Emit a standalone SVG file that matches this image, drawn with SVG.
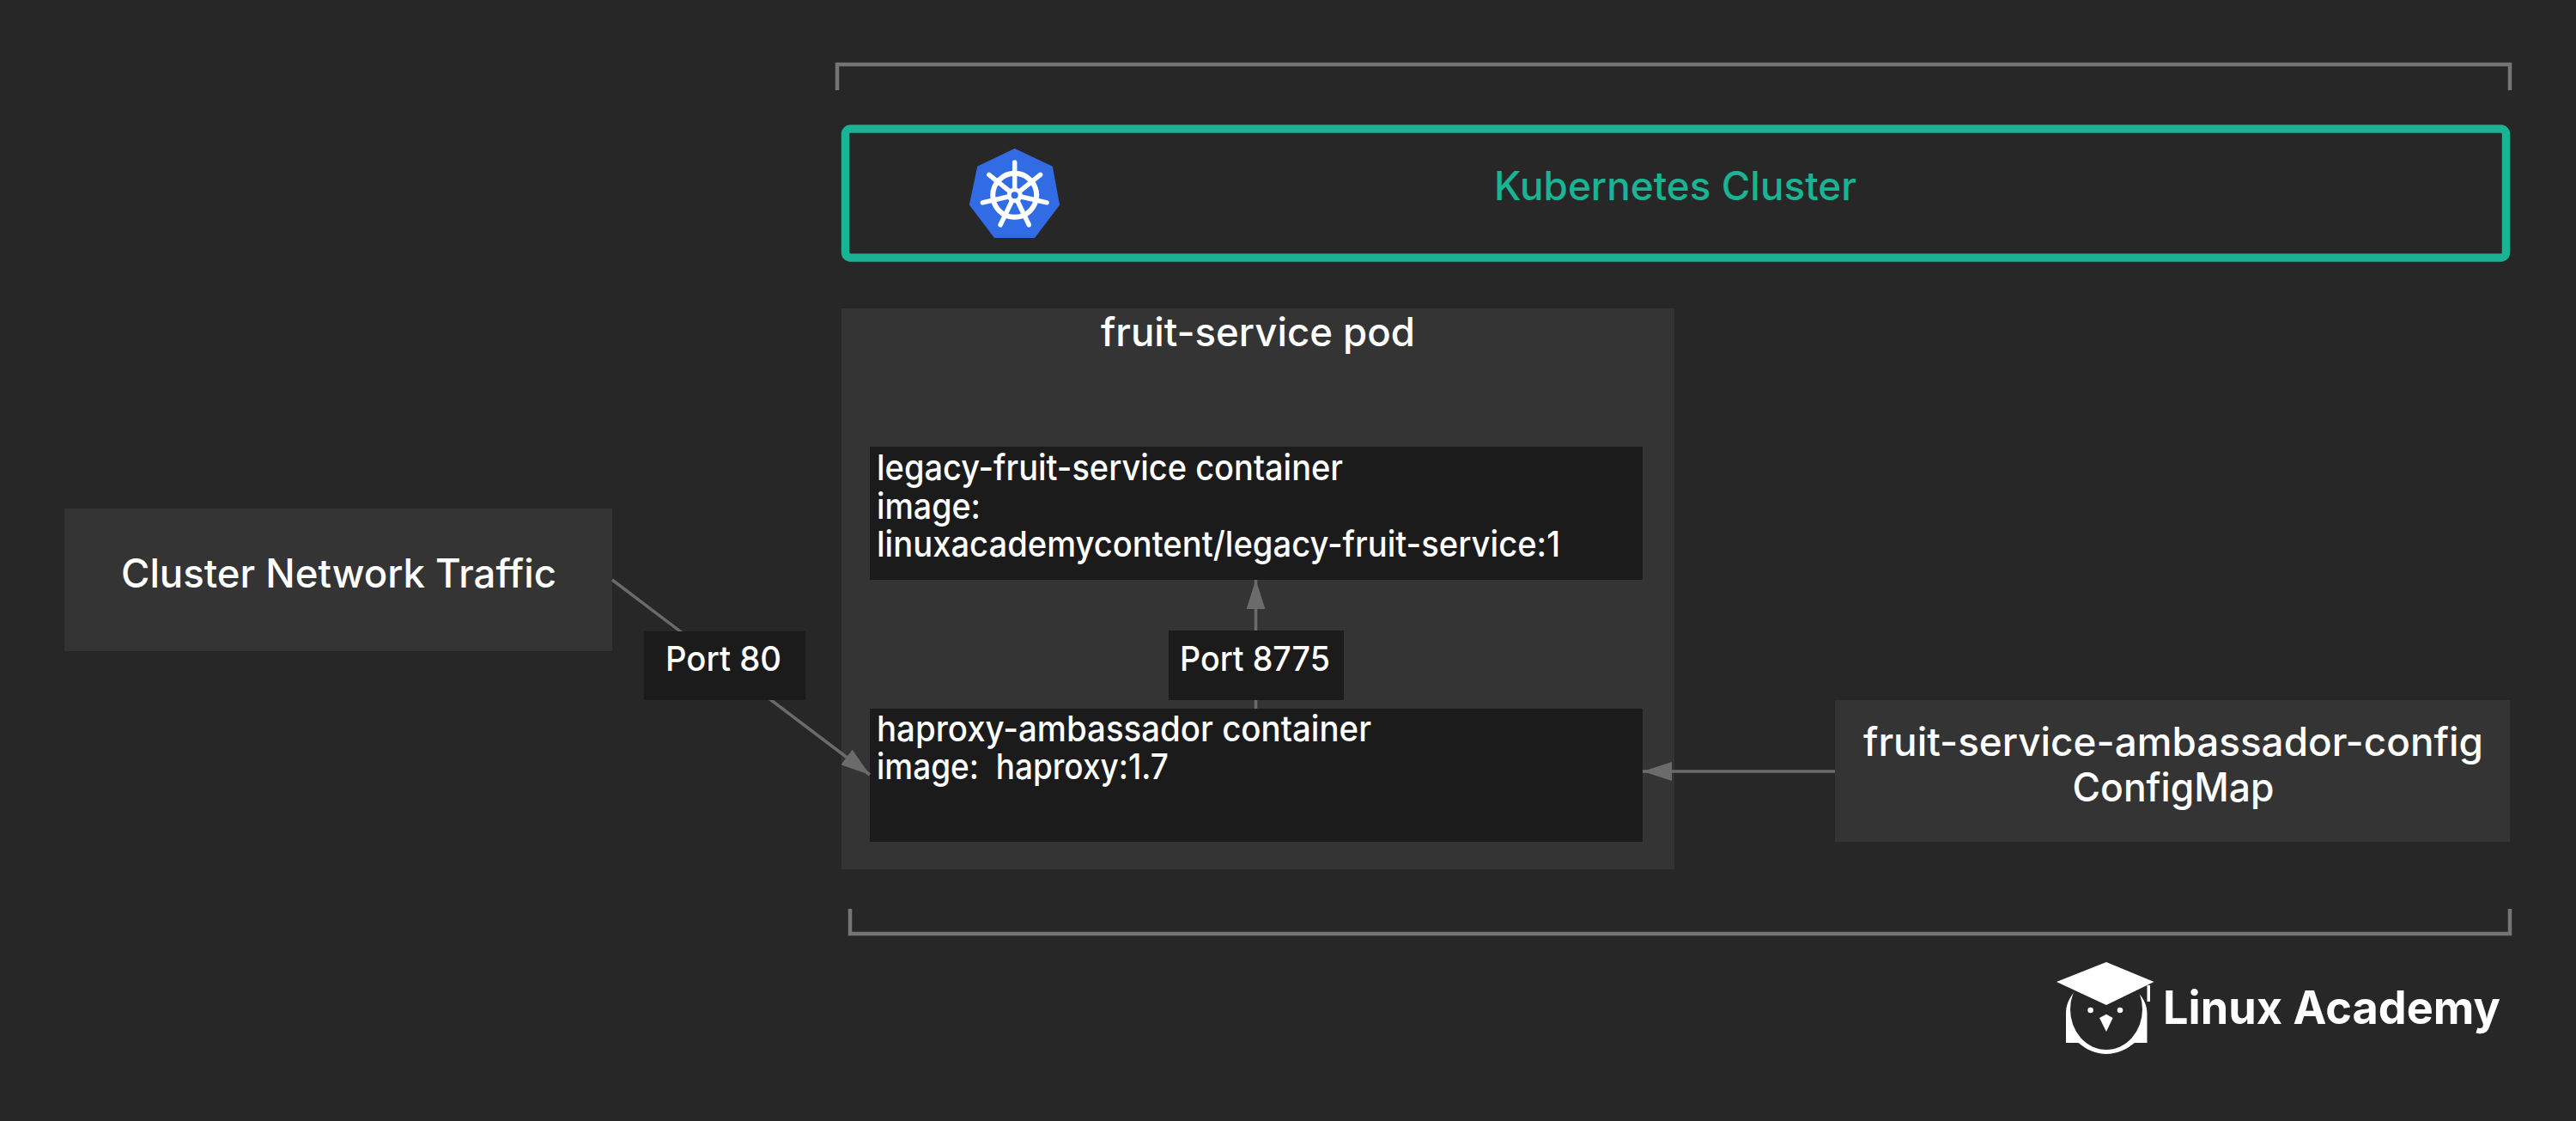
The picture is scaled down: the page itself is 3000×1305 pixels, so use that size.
<svg xmlns="http://www.w3.org/2000/svg" width="3000" height="1305" viewBox="0 0 3000 1305">
<defs>
<marker id="arrow" markerUnits="userSpaceOnUse" viewBox="0 0 34 22" refX="34" refY="11" markerWidth="34" markerHeight="22" orient="auto"><path d="M0 0L34 11L0 22Z" fill="#6b6b6b"/></marker>
</defs>
<style>
text{font-family:"Inter","Liberation Sans",sans-serif;fill:#fff;font-weight:450}
.t{font-size:46px}
.c{font-size:41px}
.p{font-size:40px}
.m{text-anchor:middle}
.box{fill:#343434}
.dark{fill:#1b1b1b}
.conn{stroke:#6b6b6b;stroke-width:3.500;fill:none}
.br{stroke:#757575;stroke-width:4.500;fill:none}
</style>
<rect width="3000" height="1305" fill="#272727"/>
<g id="brackets">
<path class="br" d="M975 105V75H2923V105"/>
<path class="br" d="M990 1058V1087H2923V1058"/>
</g>
<g id="kubernetes-cluster">
<rect x="984.500" y="150" width="1934" height="150" rx="6" fill="none" stroke="#1ab394" stroke-width="9.500"/>
<path d="M1181.700 175L1224 195L1232 238L1204 275H1159L1131 238L1140 195Z" fill="#326ce5" stroke="#326ce5" stroke-width="4" stroke-linejoin="round"/>
<g stroke="#fff" stroke-linecap="round" fill="none">
<circle cx="1181.700" cy="227.300" r="25.500" stroke-width="6"/>
<g stroke-width="5.500">
<path d="M1181.700 227.300V189"/>
<path d="M1181.700 227.300V189" transform="rotate(51.430 1181.700 227.300)"/>
<path d="M1181.700 227.300V189" transform="rotate(102.860 1181.700 227.300)"/>
<path d="M1181.700 227.300V189" transform="rotate(154.290 1181.700 227.300)"/>
<path d="M1181.700 227.300V189" transform="rotate(205.710 1181.700 227.300)"/>
<path d="M1181.700 227.300V189" transform="rotate(257.140 1181.700 227.300)"/>
<path d="M1181.700 227.300V189" transform="rotate(308.570 1181.700 227.300)"/>
</g>
</g>
<circle cx="1181.700" cy="227.300" r="9" fill="#fff"/>
<circle cx="1181.700" cy="227.300" r="4" fill="#326ce5"/>
<text class="t m" x="1951" y="233" style="fill:#1ab394" textLength="422" lengthAdjust="spacingAndGlyphs">Kubernetes Cluster</text>
</g>
<g id="fruit-service-pod">
<rect class="box" x="980" y="359" width="970" height="653"/>
<text class="t m" x="1465" y="403" textLength="366" lengthAdjust="spacingAndGlyphs">fruit-service pod</text>
</g>
<g id="legacy-fruit-service">
<rect class="dark" x="1013" y="520" width="900" height="155"/>
<text class="c" x="1021" y="559" textLength="543" lengthAdjust="spacingAndGlyphs">legacy-fruit-service container</text>
<text class="c" x="1021" y="604" textLength="121" lengthAdjust="spacingAndGlyphs">image:</text>
<text class="c" x="1021" y="648" textLength="796" lengthAdjust="spacingAndGlyphs">linuxacademycontent/legacy-fruit-service:1</text>
</g>
<g id="haproxy-ambassador">
<rect class="dark" x="1013" y="825" width="900" height="155"/>
<text class="c" x="1021" y="863" textLength="576" lengthAdjust="spacingAndGlyphs">haproxy-ambassador container</text>
<text class="c" x="1021" y="907" xml:space="preserve" textLength="340" lengthAdjust="spacingAndGlyphs">image:  haproxy:1.7</text>
</g>
<g id="cluster-network-traffic">
<rect class="box" x="75" y="592" width="638" height="166"/>
<text class="t" x="141" y="684" textLength="507" lengthAdjust="spacingAndGlyphs">Cluster Network Traffic</text>
</g>
<g id="configmap">
<rect class="box" x="2137" y="815" width="786" height="165"/>
<text class="t m" x="2531" y="880" textLength="722" lengthAdjust="spacingAndGlyphs">fruit-service-ambassador-config</text>
<text class="t m" x="2531" y="933" textLength="235" lengthAdjust="spacingAndGlyphs">ConfigMap</text>
</g>
<g id="connectors">
<path class="conn" d="M713 675L1013 902" marker-end="url(#arrow)"/>
<path class="conn" d="M1462.500 825V675" marker-end="url(#arrow)"/>
<path class="conn" d="M2137 898H1913" marker-end="url(#arrow)"/>
</g>
<g id="port-80">
<rect class="dark" x="750" y="735" width="188" height="80"/>
<text class="p" x="775" y="781" textLength="135" lengthAdjust="spacingAndGlyphs">Port 80</text>
</g>
<g id="port-8775">
<rect class="dark" x="1361" y="734" width="204" height="81"/>
<text class="p" x="1374" y="781" textLength="175" lengthAdjust="spacingAndGlyphs">Port 8775</text>
</g>
<g id="linux-academy-logo">
<path d="M2417 1153C2409 1163 2406 1170 2406 1180V1214H2420.500C2430 1222 2441 1227 2453 1227C2465 1227 2476 1222 2486 1214H2500.500V1180C2500.500 1170 2497 1163 2488 1153Z" fill="#fff"/>
<ellipse cx="2453" cy="1175" rx="42" ry="47" fill="#272727"/>
<path d="M2453 1120L2508.500 1143L2453 1170L2395 1143Z" fill="#fff"/>
<rect x="2500.500" y="1147" width="3.500" height="19" fill="#fff"/>
<circle cx="2434.600" cy="1176" r="3.300" fill="#fff"/>
<circle cx="2469" cy="1176" r="3.300" fill="#fff"/>
<path d="M2445 1185L2453 1180.700L2460.600 1185L2453 1201Z" fill="#fff"/>
<text x="2519" y="1192" font-size="54" style="font-weight:700" textLength="393" lengthAdjust="spacingAndGlyphs">Linux Academy</text>
</g>
</svg>
